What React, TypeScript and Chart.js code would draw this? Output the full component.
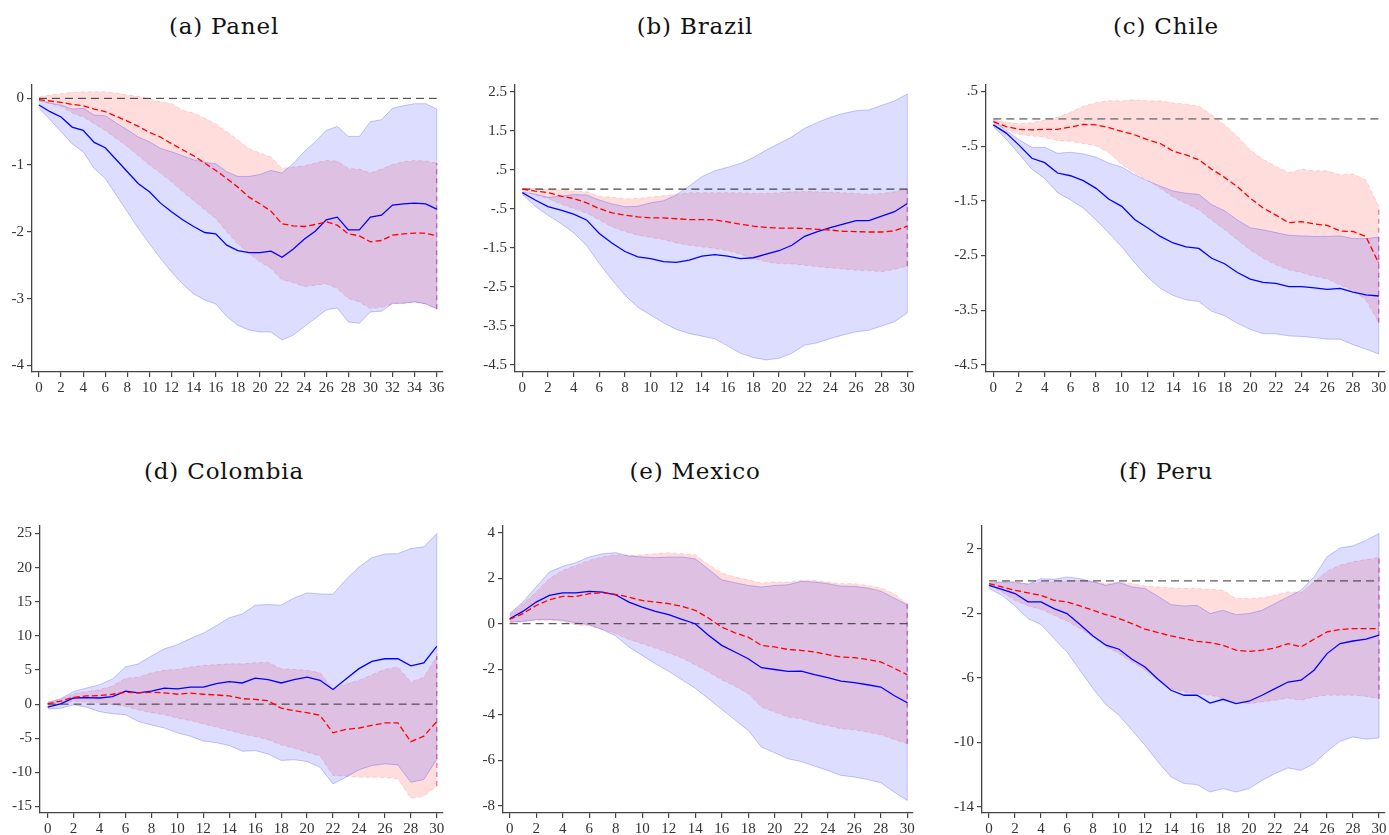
import React, { useEffect, useRef } from "react";
import { Chart, registerables } from "chart.js";
Chart.register(...registerables);

// ---------- DATA ----------
const xTicks36 = [0, 2, 4, 6, 8, 10, 12, 14, 16, 18, 20, 22, 24, 26, 28, 30, 32, 34, 36];
const xTicks30 = [0, 2, 4, 6, 8, 10, 12, 14, 16, 18, 20, 22, 24, 26, 28, 30];

// (a) Panel
const aYTicks = [0, -1, -2, -3, -4];
const aBlue = [-0.10, -0.2, -0.28, -0.43, -0.48, -0.66, -0.74, -0.92, -1.1, -1.28, -1.40, -1.57, -1.70, -1.82, -1.92, -2.01, -2.03, -2.2, -2.28, -2.31, -2.31, -2.29, -2.38, -2.26, -2.11, -1.99, -1.82, -1.78, -1.97, -1.97, -1.78, -1.75, -1.6, -1.58, -1.57, -1.58, -1.66];
const aRed = [-0.02, -0.04, -0.06, -0.09, -0.11, -0.16, -0.2, -0.27, -0.34, -0.42, -0.51, -0.58, -0.68, -0.77, -0.86, -0.97, -1.08, -1.2, -1.33, -1.48, -1.58, -1.69, -1.88, -1.91, -1.92, -1.89, -1.85, -1.9, -2.03, -2.06, -2.15, -2.13, -2.05, -2.03, -2.02, -2.02, -2.06];
const aBlueHi = [-0.03, -0.07, -0.1, -0.16, -0.15, -0.25, -0.26, -0.37, -0.47, -0.58, -0.65, -0.75, -0.8, -0.86, -0.92, -0.96, -0.98, -1.1, -1.17, -1.17, -1.14, -1.08, -1.12, -0.98, -0.8, -0.65, -0.48, -0.42, -0.57, -0.57, -0.35, -0.32, -0.15, -0.11, -0.08, -0.08, -0.16];
const aBlueLo = [-0.15, -0.32, -0.5, -0.68, -0.8, -1.05, -1.2, -1.45, -1.7, -1.95, -2.18, -2.4, -2.6, -2.78, -2.93, -3.02, -3.08, -3.27, -3.4, -3.47, -3.5, -3.5, -3.62, -3.55, -3.42, -3.3, -3.17, -3.14, -3.35, -3.37, -3.2, -3.19, -3.07, -3.07, -3.05, -3.08, -3.15];
const aRedHi = [0.02, 0.05, 0.07, 0.09, 0.1, 0.1, 0.1, 0.08, 0.05, 0.03, -0.01, -0.05, -0.08, -0.18, -0.22, -0.3, -0.38, -0.5, -0.62, -0.75, -0.82, -0.88, -1.05, -1.03, -1.01, -0.97, -0.93, -0.94, -1.05, -1.06, -1.12, -1.06, -0.99, -0.95, -0.93, -0.94, -0.97];
const aRedLo = [-0.04, -0.08, -0.12, -0.22, -0.28, -0.38, -0.48, -0.6, -0.72, -0.86, -1.0, -1.12, -1.25, -1.4, -1.53, -1.67, -1.8, -2.0, -2.18, -2.32, -2.45, -2.55, -2.72, -2.76, -2.82, -2.8, -2.78, -2.85, -3.0, -3.05, -3.15, -3.13, -3.08, -3.07, -3.05, -3.08, -3.16];

// (b) Brazil
const bYTicks = [2.5, 1.5, 0.5, -0.5, -1.5, -2.5, -3.5, -4.5];
const bBlue = [-0.09, -0.28, -0.45, -0.54, -0.64, -0.79, -1.14, -1.39, -1.6, -1.74, -1.78, -1.86, -1.88, -1.82, -1.72, -1.68, -1.72, -1.78, -1.76, -1.67, -1.58, -1.44, -1.21, -1.09, -0.99, -0.9, -0.81, -0.81, -0.69, -0.58, -0.37];
const bRed = [0, -0.05, -0.09, -0.18, -0.24, -0.35, -0.5, -0.61, -0.67, -0.71, -0.74, -0.74, -0.76, -0.78, -0.78, -0.79, -0.84, -0.9, -0.95, -0.98, -1.0, -1.0, -1.01, -1.03, -1.05, -1.08, -1.09, -1.1, -1.1, -1.07, -0.95];
const bBlueHi = [-0.07, -0.13, -0.21, -0.18, -0.14, -0.15, -0.28, -0.38, -0.45, -0.44, -0.35, -0.3, -0.15, 0.08, 0.32, 0.47, 0.56, 0.66, 0.81, 1.0, 1.17, 1.34, 1.56, 1.71, 1.84, 1.94, 2.01, 2.03, 2.15, 2.26, 2.44];
const bBlueLo = [-0.13, -0.44, -0.67, -0.88, -1.12, -1.44, -1.91, -2.33, -2.72, -3.03, -3.23, -3.43, -3.6, -3.7, -3.77, -3.84, -4.02, -4.21, -4.32, -4.38, -4.34, -4.21, -4.0, -3.94, -3.83, -3.74, -3.66, -3.62, -3.51, -3.4, -3.17];
const bRedHi = [0.02, 0.02, -0.01, -0.03, -0.05, -0.07, -0.18, -0.21, -0.25, -0.24, -0.2, -0.17, -0.13, -0.09, -0.09, -0.09, -0.09, -0.09, -0.11, -0.11, -0.09, -0.07, -0.06, -0.07, -0.08, -0.09, -0.11, -0.13, -0.11, -0.07, 0.02];
const bRedLo = [-0.03, -0.15, -0.24, -0.38, -0.5, -0.61, -0.79, -0.97, -1.09, -1.18, -1.24, -1.29, -1.38, -1.44, -1.48, -1.52, -1.58, -1.67, -1.78, -1.86, -1.91, -1.92, -1.95, -1.99, -2.02, -2.05, -2.08, -2.09, -2.12, -2.06, -1.97];

// (c) Chile
const cYTicks = [0.5, -0.5, -1.5, -2.5, -3.5, -4.5];
const cBlue = [-0.11, -0.26, -0.48, -0.72, -0.8, -0.99, -1.04, -1.13, -1.27, -1.47, -1.6, -1.84, -1.99, -2.15, -2.27, -2.34, -2.37, -2.55, -2.65, -2.81, -2.93, -2.99, -3.01, -3.07, -3.07, -3.09, -3.12, -3.1, -3.17, -3.22, -3.24];
const cRed = [-0.05, -0.14, -0.19, -0.2, -0.19, -0.19, -0.15, -0.1, -0.11, -0.16, -0.23, -0.29, -0.38, -0.45, -0.59, -0.66, -0.75, -0.92, -1.07, -1.24, -1.45, -1.63, -1.76, -1.9, -1.88, -1.92, -1.95, -2.05, -2.06, -2.15, -2.64];
const cBlueHi = [-0.02, -0.21, -0.38, -0.52, -0.52, -0.63, -0.61, -0.64, -0.7, -0.81, -0.88, -1.02, -1.13, -1.23, -1.32, -1.36, -1.38, -1.57, -1.68, -1.85, -1.99, -2.03, -2.08, -2.13, -2.14, -2.15, -2.15, -2.14, -2.19, -2.19, -2.16];
const cBlueLo = [-0.14, -0.37, -0.64, -0.92, -1.09, -1.35, -1.48, -1.63, -1.85, -2.09, -2.34, -2.63, -2.89, -3.1, -3.23, -3.31, -3.34, -3.52, -3.6, -3.74, -3.85, -3.93, -3.93, -3.97, -3.98, -4.0, -4.03, -4.03, -4.13, -4.21, -4.3];
const cRedHi = [-0.01, -0.06, -0.09, -0.07, -0.02, 0.03, 0.12, 0.23, 0.3, 0.33, 0.33, 0.35, 0.33, 0.33, 0.29, 0.27, 0.23, 0.07, -0.11, -0.32, -0.57, -0.74, -0.87, -0.98, -0.92, -0.95, -0.95, -1.02, -1.01, -1.12, -1.6];
const cRedLo = [-0.07, -0.19, -0.29, -0.31, -0.34, -0.4, -0.41, -0.45, -0.49, -0.62, -0.84, -0.99, -1.12, -1.27, -1.43, -1.55, -1.66, -1.85, -2.03, -2.21, -2.4, -2.55, -2.67, -2.76, -2.81, -2.88, -2.93, -3.04, -3.13, -3.31, -3.73];

// (d) Colombia
const dYTicks = [25, 20, 15, 10, 5, 0, -5, -10, -15];
const dBlue = [-0.45, 0.05, 0.9, 0.95, 0.9, 1.1, 1.9, 1.65, 1.9, 2.35, 2.25, 2.5, 2.5, 3.0, 3.3, 3.1, 3.8, 3.6, 3.1, 3.6, 3.95, 3.5, 2.15, 3.7, 5.2, 6.25, 6.65, 6.65, 5.6, 6.05, 8.45];
const dRed = [0.05, 0.45, 1.0, 1.2, 1.25, 1.45, 1.75, 1.65, 1.75, 1.65, 1.45, 1.6, 1.45, 1.35, 1.2, 0.8, 0.7, 0.5, -0.6, -0.95, -1.25, -1.65, -4.2, -3.7, -3.5, -3.1, -2.75, -2.75, -5.5, -4.7, -2.55];
const dBlueHi = [0.2, 0.8, 1.85, 2.35, 2.85, 3.7, 5.45, 5.9, 7.05, 8.1, 8.7, 9.6, 10.4, 11.5, 12.65, 13.2, 14.5, 14.6, 14.5, 15.55, 16.3, 16.15, 16.1, 18.25, 20.1, 21.45, 22.0, 22.05, 22.8, 23.05, 25.0];
const dBlueLo = [-0.7, -0.6, -0.1, -0.45, -1.1, -1.4, -1.55, -2.55, -3.05, -3.5, -4.2, -4.7, -5.4, -5.65, -6.05, -6.9, -6.8, -7.3, -8.25, -8.15, -8.4, -9.25, -11.7, -10.7, -9.6, -9.0, -8.75, -8.9, -11.45, -11.05, -8.1];
const dRedHi = [0.4, 0.7, 1.5, 1.85, 2.15, 2.65, 3.8, 3.95, 4.6, 4.95, 5.1, 5.45, 5.65, 5.8, 5.9, 5.9, 6.05, 6.15, 5.2, 5.1, 4.95, 4.6, 2.15, 3.0, 3.5, 4.3, 5.1, 5.45, 3.25, 3.95, 7.05];
const dRedLo = [-0.3, 0.05, 0.4, 0.3, 0.2, -0.1, -0.3, -0.85, -1.25, -1.55, -2.05, -2.4, -2.9, -3.35, -3.85, -4.35, -4.75, -5.2, -6.0, -6.45, -7.05, -7.6, -10.45, -10.55, -10.7, -10.7, -10.75, -10.95, -13.8, -13.5, -12.0];

// (e) Mexico
const eYTicks = [4, 2, 0, -2, -4, -6, -8];
const eBlue = [0.22, 0.54, 0.95, 1.24, 1.35, 1.35, 1.42, 1.39, 1.27, 0.95, 0.73, 0.54, 0.4, 0.19, 0.0, -0.51, -0.95, -1.24, -1.54, -1.93, -2.01, -2.09, -2.08, -2.24, -2.37, -2.52, -2.59, -2.68, -2.78, -3.15, -3.47];
const eRed = [0.19, 0.44, 0.8, 1.05, 1.2, 1.19, 1.32, 1.36, 1.29, 1.17, 1.02, 0.95, 0.88, 0.76, 0.59, 0.25, -0.15, -0.4, -0.59, -0.95, -1.02, -1.13, -1.17, -1.24, -1.36, -1.46, -1.49, -1.57, -1.68, -1.95, -2.24];
const eBlueHi = [0.44, 0.95, 1.61, 2.27, 2.52, 2.68, 2.93, 3.07, 3.12, 2.97, 2.93, 2.9, 2.93, 2.93, 2.85, 2.39, 1.93, 1.8, 1.68, 1.61, 1.68, 1.71, 1.86, 1.83, 1.76, 1.65, 1.64, 1.57, 1.43, 1.13, 0.83];
const eBlueLo = [0.07, 0.1, 0.18, 0.19, 0.15, 0.04, -0.04, -0.26, -0.54, -1.02, -1.39, -1.76, -2.09, -2.46, -2.83, -3.29, -3.76, -4.22, -4.69, -5.42, -5.67, -5.93, -6.05, -6.25, -6.44, -6.66, -6.73, -6.84, -6.98, -7.39, -7.76];
const eRedHi = [0.4, 0.88, 1.39, 1.98, 2.34, 2.56, 2.78, 2.93, 3.03, 3.0, 3.03, 3.07, 3.12, 3.07, 3.03, 2.59, 2.23, 2.05, 1.93, 1.79, 1.83, 1.83, 1.9, 1.9, 1.83, 1.76, 1.76, 1.68, 1.57, 1.32, 0.88];
const eRedLo = [0.04, 0.1, 0.15, 0.15, 0.1, -0.04, -0.1, -0.25, -0.44, -0.69, -0.88, -1.07, -1.29, -1.51, -1.8, -2.12, -2.46, -2.74, -3.07, -3.66, -3.88, -4.1, -4.17, -4.35, -4.47, -4.61, -4.66, -4.76, -4.88, -5.08, -5.27];

// (f) Peru
const fYTicks = [2, -2, -6, -10, -14];
const fBlue = [-0.27, -0.52, -0.78, -1.3, -1.3, -1.71, -2.02, -2.7, -3.41, -3.98, -4.23, -4.85, -5.33, -6.09, -6.77, -7.08, -7.08, -7.56, -7.33, -7.6, -7.45, -7.08, -6.67, -6.26, -6.15, -5.53, -4.5, -3.88, -3.72, -3.61, -3.36];
const fRed = [-0.17, -0.37, -0.58, -0.74, -0.89, -1.2, -1.3, -1.55, -1.82, -2.09, -2.33, -2.64, -2.99, -3.2, -3.41, -3.57, -3.74, -3.82, -3.98, -4.29, -4.36, -4.29, -4.15, -3.88, -4.09, -3.61, -3.16, -3.01, -2.95, -2.95, -2.95];
const fBlueHi = [-0.17, -0.06, -0.06, -0.21, 0.14, 0.1, 0.25, 0.14, -0.06, -0.27, -0.1, -0.37, -0.47, -0.95, -1.47, -1.55, -1.51, -2.02, -1.82, -2.09, -2.02, -1.82, -1.4, -0.99, -0.58, 0.25, 1.49, 2.04, 2.17, 2.52, 2.93];
const fBlueLo = [-0.47, -0.89, -1.55, -2.33, -2.7, -3.57, -4.4, -5.53, -6.67, -7.66, -8.32, -9.25, -10.18, -11.21, -12.14, -12.55, -12.61, -13.07, -12.86, -13.07, -12.86, -12.35, -11.93, -11.58, -11.73, -11.31, -10.55, -9.93, -9.66, -9.8, -9.72];
const fRedHi = [-0.06, -0.06, -0.1, -0.17, -0.06, -0.06, 0, 0.04, -0.02, -0.17, -0.06, -0.17, -0.31, -0.37, -0.43, -0.47, -0.47, -0.52, -0.58, -1.09, -1.09, -1.05, -0.89, -0.68, -0.72, -0.06, 0.6, 0.97, 1.18, 1.32, 1.45];
const fRedLo = [-0.27, -0.68, -1.2, -1.55, -1.75, -2.13, -2.5, -2.95, -3.47, -4.09, -4.5, -5.02, -5.53, -6.15, -6.67, -6.87, -6.98, -7.08, -7.25, -7.49, -7.6, -7.49, -7.39, -7.25, -7.39, -7.18, -7.08, -7.08, -7.08, -7.14, -7.29];

const titles = ["(a) Panel", "(b) Brazil", "(c) Chile", "(d) Colombia", "(e) Mexico", "(f) Peru"];

// ---------- STYLE / LAYOUT ----------
const BLUE_FILL = "rgba(0,0,255,0.135)";
const BLUE_BORDER = "rgba(0,0,255,0.22)";
const RED_FILL = "rgba(255,0,0,0.135)";
const RED_BORDER = "rgba(255,0,0,0.14)";
const AXIS = "#444";
const TICK_FONT = { family: '"Liberation Serif", "Times New Roman", serif', size: 15 };

type Panel = {
  title: string;
  blue: number[]; red: number[];
  blueHi: number[]; blueLo: number[]; redHi: number[]; redLo: number[];
  xTicks: number[]; yTicks: number[];
  L: number; T: number; R: number; B: number; YW: number; XH: number;
  xMin: number; xMax: number; yMin: number; yMax: number;
  titleX: number; titleY: number; zeroColor: string; zeroWidth: number;
};

const panels: Panel[] = [
  { title: titles[0], blue: aBlue, red: aRed, blueHi: aBlueHi, blueLo: aBlueLo, redHi: aRedHi, redLo: aRedLo, xTicks: xTicks36, yTicks: aYTicks,
    L: 32, T: 85, R: 443, B: 372, YW: 32, XH: 28, xMin: -0.63, xMax: 36.57, yMin: -4.1, yMax: 0.2, titleX: 224, titleY: 15, zeroColor: "#333", zeroWidth: 1 },
  { title: titles[1], blue: bBlue, red: bRed, blueHi: bBlueHi, blueLo: bBlueLo, redHi: bRedHi, redLo: bRedLo, xTicks: xTicks30, yTicks: bYTicks,
    L: 515, T: 85, R: 913, B: 372, YW: 45, XH: 28, xMin: -0.57, xMax: 30.44, yMin: -4.69, yMax: 2.67, titleX: 695, titleY: 15, zeroColor: "#444", zeroWidth: 1.2 },
  { title: titles[2], blue: cBlue, red: cRed, blueHi: cBlueHi, blueLo: cBlueLo, redHi: cRedHi, redLo: cRedLo, xTicks: xTicks30, yTicks: cYTicks,
    L: 986, T: 85, R: 1385, B: 372, YW: 46, XH: 28, xMin: -0.57, xMax: 30.49, yMin: -4.63, yMax: 0.62, titleX: 1166, titleY: 15, zeroColor: "#8a8a8a", zeroWidth: 1.8 },
  { title: titles[3], blue: dBlue, red: dRed, blueHi: dBlueHi, blueLo: dBlueLo, redHi: dRedHi, redLo: dRedLo, xTicks: xTicks30, yTicks: dYTicks,
    L: 40, T: 526, R: 443, B: 813, YW: 40, XH: 22, xMin: -0.59, xMax: 30.48, yMin: -15.95, yMax: 26.1, titleX: 224, titleY: 460, zeroColor: "#333", zeroWidth: 1 },
  { title: titles[4], blue: eBlue, red: eRed, blueHi: eBlueHi, blueLo: eBlueLo, redHi: eRedHi, redLo: eRedLo, xTicks: xTicks30, yTicks: eYTicks,
    L: 503, T: 526, R: 913, B: 813, YW: 33, XH: 22, xMin: -0.5, xMax: 30.43, yMin: -8.31, yMax: 4.29, titleX: 695, titleY: 460, zeroColor: "#333", zeroWidth: 1 },
  { title: titles[5], blue: fBlue, red: fRed, blueHi: fBlueHi, blueLo: fBlueLo, redHi: fRedHi, redLo: fRedLo, xTicks: xTicks30, yTicks: fYTicks,
    L: 982, T: 526, R: 1385, B: 813, YW: 42, XH: 22, xMin: -0.54, xMax: 30.46, yMin: -14.37, yMax: 3.4, titleX: 1166, titleY: 460, zeroColor: "#333", zeroWidth: 1 },
];

const PAD_T = 12;
const PAD_R = 12;

function fmtTick(v: number): string {
  if (v === 0) return "0";
  return String(v).replace(/^(-?)0\./, "$1.");
}

function PanelChart({ p }: { p: Panel }) {
  const ref = useRef<HTMLCanvasElement | null>(null);
  const left = p.L - p.YW;
  const top = p.T - PAD_T;
  const width = p.R + PAD_R - left;
  const height = p.B + p.XH - top;

  useEffect(() => {
    if (!ref.current) return;
    const n = p.blue.length - 1;
    const pts = (arr: number[]) => arr.map((y, i) => ({ x: i, y }));
    const chart = new Chart(ref.current, {
      type: "line",
      data: {
        datasets: [
          { label: "redHi", data: pts(p.redHi), fill: 1, backgroundColor: RED_FILL, borderColor: RED_BORDER, borderWidth: 1, borderDash: [4, 3], order: 20 },
          { label: "redLo", data: pts(p.redLo), fill: false, borderColor: RED_BORDER, borderWidth: 1, borderDash: [4, 3], order: 19 },
          { label: "redEdge", data: [{ x: n, y: p.redLo[n] }, { x: n, y: p.redHi[n] }], fill: false, borderColor: "rgba(235,40,90,0.55)", borderWidth: 1.5, borderDash: [5, 4], order: 18 },
          { label: "blueHi", data: pts(p.blueHi), fill: 4, backgroundColor: BLUE_FILL, borderColor: BLUE_BORDER, borderWidth: 1, order: 17 },
          { label: "blueLo", data: pts(p.blueLo), fill: false, borderColor: BLUE_BORDER, borderWidth: 1, order: 16 },
          { label: "blueEdge", data: [{ x: n, y: p.blueLo[n] }, { x: n, y: p.blueHi[n] }], fill: false, borderColor: BLUE_BORDER, borderWidth: 1, order: 15 },
          { label: "zero", data: [{ x: 0, y: 0 }, { x: n, y: 0 }], fill: false, borderColor: p.zeroColor, borderWidth: p.zeroWidth, borderDash: [8, 5], order: 3 },
          { label: "blue", data: pts(p.blue), fill: false, borderColor: "#0000ff", borderWidth: 1.3, order: 2 },
          { label: "red", data: pts(p.red), fill: false, borderColor: "#ff0000", borderWidth: 1.3, borderDash: [6, 3], order: 1 },
        ],
      },
      options: {
        animation: false,
        responsive: false,
        devicePixelRatio: 1,
        events: [],
        layout: { padding: { top: PAD_T, right: PAD_R, left: 0, bottom: 0 } },
        elements: { point: { radius: 0 }, line: { tension: 0 } },
        plugins: { legend: { display: false }, tooltip: { enabled: false }, title: { display: false } },
        scales: {
          x: {
            type: "linear",
            min: p.xMin,
            max: p.xMax,
            afterBuildTicks: (s: any) => { s.ticks = p.xTicks.map((v) => ({ value: v })); },
            afterFit: (s: any) => { s.height = p.XH; },
            ticks: { autoSkip: false, maxRotation: 0, minRotation: 0, font: TICK_FONT, color: "#333", padding: 2, callback: (v: any) => String(v) },
            grid: { drawOnChartArea: false, drawTicks: true, tickLength: 5, color: AXIS, lineWidth: 1.2 },
            border: { display: true, color: AXIS, width: 1.3 },
          },
          y: {
            type: "linear",
            min: p.yMin,
            max: p.yMax,
            afterBuildTicks: (s: any) => { s.ticks = p.yTicks.map((v) => ({ value: v })); },
            afterFit: (s: any) => { s.width = p.YW; },
            ticks: { autoSkip: false, font: TICK_FONT, color: "#333", padding: 3, callback: (v: any) => fmtTick(Number(v)) },
            grid: { drawOnChartArea: false, drawTicks: true, tickLength: 5, color: AXIS, lineWidth: 1.2 },
            border: { display: true, color: AXIS, width: 1.3 },
          },
        },
      } as any,
    });
    return () => chart.destroy();
  }, []);

  return (
    <>
      <div
        style={{
          position: "absolute",
          left: p.titleX - 200,
          top: p.titleY,
          width: 400,
          textAlign: "center",
          fontFamily: '"DejaVu Serif", serif',
          fontSize: 23,
          lineHeight: "23px",
          letterSpacing: "0.8px",
          color: "#111",
          whiteSpace: "nowrap",
        }}
      >
        {p.title}
      </div>
      <canvas
        ref={ref}
        width={width}
        height={height}
        style={{ position: "absolute", left, top, width, height }}
      />
    </>
  );
}

export default function App() {
  return (
    <div
      style={{
        position: "fixed",
        left: 0,
        top: 0,
        width: 1389,
        height: 835,
        overflow: "hidden",
        background: "#fff",
      }}
    >
      {panels.map((p) => (
        <PanelChart key={p.title} p={p} />
      ))}
    </div>
  );
}
